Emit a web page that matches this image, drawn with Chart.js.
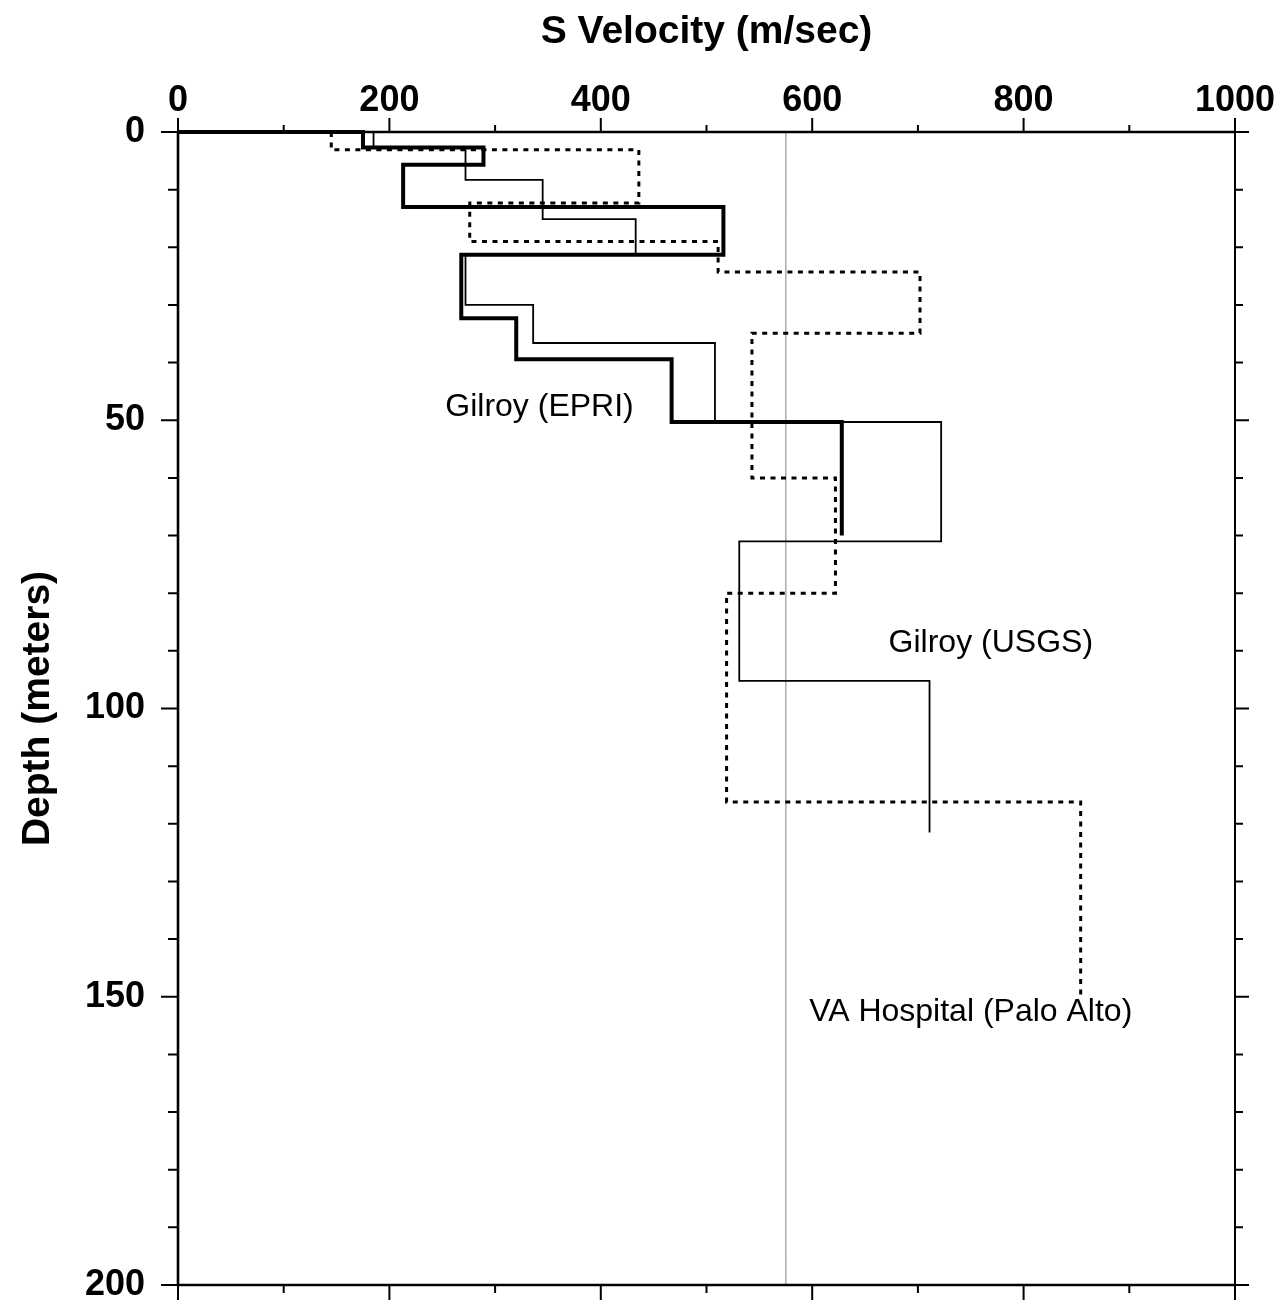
<!DOCTYPE html>
<html><head><meta charset="utf-8">
<style>html,body{margin:0;padding:0;background:#fff}canvas{display:block}</style>
<script src="https://cdn.jsdelivr.net/npm/chart.js@4.4.1/dist/chart.umd.min.js"></script>
</head><body>
<canvas id="c" width="1285" height="1307"></canvas>
<script>
// ---- data ----
const seriesNames = ['Gilroy (EPRI)', 'Gilroy (USGS)', 'VA Hospital (Palo Alto)'];
const epriVelocity = [175, 289, 213, 516, 268, 320, 467, 628];
const epriDepthBounds = [0, 2.7, 5.7, 13, 21.3, 32.3, 39.4, 50.3, 70];
const usgsVelocity = [185, 272, 345, 433, 272, 336, 508, 722, 531, 711];
const usgsDepthBounds = [0, 2.6, 8.3, 15.1, 21.3, 30, 36.6, 50.3, 71, 95.2, 121.5];
const vaVelocity = [145, 436, 276, 511, 702, 543, 622, 519, 854];
const vaDepthBounds = [0, 3.1, 12.3, 19, 24.3, 34.9, 60, 80, 116.2, 150.5];
const scanLineVelocity = 575;
const xTickMajor = [0, 200, 400, 600, 800, 1000];
const xTickMinor = [100, 300, 500, 700, 900];
const yTickMajor = [0, 50, 100, 150, 200];
const yTickMinor = [10, 20, 30, 40, 60, 70, 80, 90, 110, 120, 130, 140, 160, 170, 180, 190];
const labelVelocity = [342, 769, 750];
const labelDepth = [47.7, 88.6, 152.6];

// ---- build step profiles ----
function profile(vel, bounds, startAtZero) {
  const pts = [];
  if (startAtZero) pts.push({x: 0, y: bounds[0]});
  for (let i = 0; i < vel.length; i++) {
    pts.push({x: vel[i], y: bounds[i]});
    pts.push({x: vel[i], y: bounds[i + 1]});
  }
  return pts;
}

const FONT = '"Liberation Sans", Arial, Helvetica, sans-serif';

const framePlugin = {
  id: 'frame',
  afterDatasetsDraw(chart) {
    const {ctx, chartArea: a, scales: {x, y}} = chart;
    ctx.save();
    ctx.strokeStyle = '#000';
    ctx.lineCap = 'butt';
    ctx.lineWidth = 2.6;
    ctx.beginPath();
    ctx.moveTo(a.left, a.top); ctx.lineTo(a.left, a.bottom);
    ctx.moveTo(a.left, a.top); ctx.lineTo(a.right, a.top);
    ctx.moveTo(a.left, a.bottom); ctx.lineTo(a.right, a.bottom);
    ctx.stroke();
    ctx.lineWidth = 2;
    ctx.beginPath();
    ctx.moveTo(a.right, a.top); ctx.lineTo(a.right, a.bottom);
    ctx.stroke();
    ctx.lineWidth = 2;
    ctx.beginPath();
    xTickMajor.forEach(v => {
      const px = x.getPixelForValue(v);
      ctx.moveTo(px, a.top); ctx.lineTo(px, a.top - 14);
      ctx.moveTo(px, a.bottom); ctx.lineTo(px, a.bottom + 15);
    });
    xTickMinor.forEach(v => {
      const px = x.getPixelForValue(v);
      ctx.moveTo(px, a.top); ctx.lineTo(px, a.top - 7);
      ctx.moveTo(px, a.bottom); ctx.lineTo(px, a.bottom + 8);
    });
    yTickMajor.forEach(v => {
      const py = y.getPixelForValue(v);
      ctx.moveTo(a.left, py); ctx.lineTo(a.left - 17, py);
      ctx.moveTo(a.right, py); ctx.lineTo(a.right + 14, py);
    });
    yTickMinor.forEach(v => {
      const py = y.getPixelForValue(v);
      ctx.moveTo(a.left, py); ctx.lineTo(a.left - 10, py);
      ctx.moveTo(a.right, py); ctx.lineTo(a.right + 8, py);
    });
    ctx.stroke();
    ctx.fillStyle = '#000';
    ctx.font = '32px ' + FONT;
    ctx.textAlign = 'center';
    ctx.textBaseline = 'middle';
    seriesNames.forEach((n, i) => {
      ctx.fillText(n, x.getPixelForValue(labelVelocity[i]), y.getPixelForValue(labelDepth[i]));
    });
    ctx.restore();
  }
};

new Chart(document.getElementById('c'), {
  type: 'scatter',
  data: {
    datasets: [
      {label: seriesNames[0], data: profile(epriVelocity, epriDepthBounds, true),
       showLine: true, borderColor: '#000', borderWidth: 4, pointRadius: 0, order: 1, clip: false,
       borderJoinStyle: 'miter'},
      {label: seriesNames[1], data: profile(usgsVelocity, usgsDepthBounds, false),
       showLine: true, borderColor: '#000', borderWidth: 1.8, pointRadius: 0, order: 2, clip: false},
      {label: seriesNames[2], data: profile(vaVelocity, vaDepthBounds, false),
       showLine: true, borderColor: '#000', borderWidth: 3, borderDash: [5, 5.5], pointRadius: 0, order: 3, clip: false},
      {label: 'scan', data: [{x: scanLineVelocity, y: 0}, {x: scanLineVelocity, y: 200}],
       showLine: true, borderColor: '#b0b0b0', borderWidth: 1, pointRadius: 0, order: 4}
    ]
  },
  options: {
    responsive: false,
    animation: false,
    layout: {padding: {left: 0, right: 50, top: 0, bottom: 22}},
    plugins: {legend: {display: false}, tooltip: {enabled: false}},
    scales: {
      x: {
        type: 'linear', position: 'top', min: 0, max: 1000,
        afterFit: s => { s.height = 132; s.paddingLeft = 0; s.paddingRight = 0; },
        grid: {display: false, drawTicks: false},
        border: {display: false},
        ticks: {stepSize: 200, color: '#000', padding: 9, maxRotation: 0,
                callback: v => String(v),
                font: {family: FONT, size: 36, weight: 'bold'}},
        title: {display: true, text: 'S Velocity (m/sec)', color: '#000',
                font: {family: FONT, size: 39, weight: 'bold'}, padding: {top: 9, bottom: 0}}
      },
      y: {
        type: 'linear', position: 'left', min: 0, max: 200, reverse: true,
        afterFit: s => { s.width = 178; s.paddingTop = 0; s.paddingBottom = 0; },
        grid: {display: false, drawTicks: false},
        border: {display: false},
        ticks: {stepSize: 50, color: '#000', padding: 33,
                callback: v => String(v),
                font: {family: FONT, size: 36, weight: 'bold'}},
        title: {display: true, text: 'Depth (meters)', color: '#000',
                font: {family: FONT, size: 39, weight: 'bold'}, padding: {top: 15, bottom: 0}}
      }
    }
  },
  plugins: [framePlugin]
});
</script>
</body></html>
